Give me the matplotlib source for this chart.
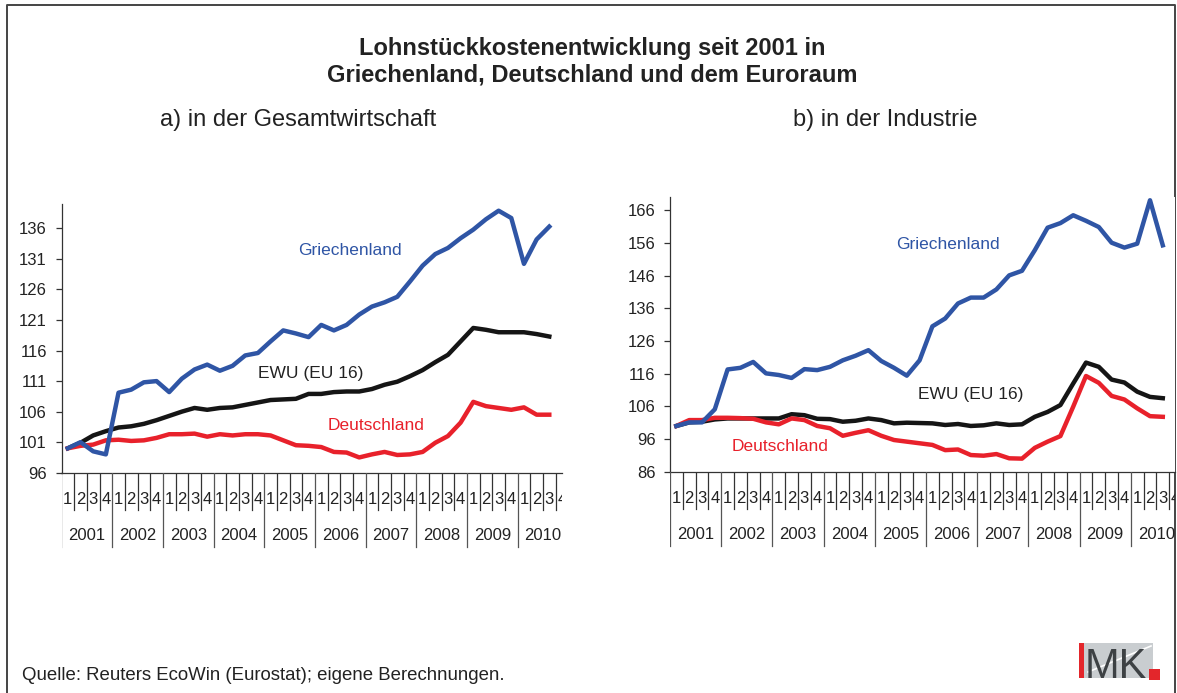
import numpy as np
import matplotlib
matplotlib.use('Agg')
import matplotlib.pyplot as plt
from matplotlib.patches import Rectangle

plt.rcParams['font.family'] = ['Liberation Sans', 'DejaVu Sans']

W, H = 1177, 693

years = ['2001', '2002', '2003', '2004', '2005', '2006', '2007', '2008', '2009', '2010']
quarters = ['1', '2', '3', '4']

# a) Gesamtwirtschaft, 2001Q1 = 100
gr_total = [100.0, 101.0, 99.5, 99.0, 109.1, 109.6, 110.8, 111.0, 109.2, 111.4,
            112.9, 113.7, 112.7, 113.5, 115.2, 115.6, 117.5, 119.3, 118.8, 118.2,
            120.2, 119.3, 120.2, 121.9, 123.2, 123.9, 124.8, 127.3, 129.9, 131.8,
            132.8, 134.4, 135.8, 137.5, 138.9, 137.7, 130.2, 134.2, 136.3]
ewu_total = [100.0, 100.9, 102.1, 102.8, 103.4, 103.6, 104.0, 104.6, 105.3, 106.0,
             106.6, 106.3, 106.6, 106.7, 107.1, 107.5, 107.9, 108.0, 108.1, 108.9,
             108.9, 109.2, 109.3, 109.3, 109.7, 110.4, 110.9, 111.8, 112.8, 114.1,
             115.3, 117.5, 119.7, 119.4, 119.0, 119.0, 119.0, 118.7, 118.3]
de_total = [100.0, 100.4, 100.6, 101.3, 101.4, 101.2, 101.3, 101.7, 102.3, 102.3,
            102.4, 101.9, 102.3, 102.1, 102.3, 102.3, 102.1, 101.3, 100.5, 100.4,
            100.2, 99.4, 99.3, 98.5, 99.0, 99.4, 98.9, 99.0, 99.4, 100.9,
            102.0, 104.2, 107.6, 106.9, 106.6, 106.3, 106.7, 105.5, 105.5]

# b) Industrie
gr_ind = [100.0, 101.1, 101.1, 105.1, 117.3, 117.8, 119.6, 116.1, 115.6, 114.7,
          117.4, 117.1, 118.1, 120.1, 121.5, 123.2, 119.9, 117.8, 115.4, 120.1,
          130.5, 132.9, 137.5, 139.3, 139.3, 141.8, 146.1, 147.5, 153.8, 160.7,
          162.1, 164.5, 162.8, 160.9, 156.1, 154.6, 155.8, 169.1, 155.3]
ewu_ind = [100.0, 101.1, 101.3, 102.0, 102.3, 102.3, 102.3, 102.3, 102.3, 103.6,
           103.3, 102.2, 102.1, 101.3, 101.6, 102.3, 101.8, 100.8, 101.0, 100.9,
           100.8, 100.3, 100.6, 100.0, 100.2, 100.8, 100.3, 100.5, 102.8, 104.3,
           106.4, 113.0, 119.4, 118.1, 114.2, 113.3, 110.5, 108.9, 108.5]
de_ind = [100.0, 101.8, 101.8, 102.5, 102.5, 102.4, 102.2, 101.1, 100.5, 102.3,
          101.8, 100.0, 99.3, 97.0, 97.9, 98.7, 97.0, 95.7, 95.2, 94.7,
          94.2, 92.6, 92.8, 91.1, 90.9, 91.4, 90.1, 90.0, 93.3, 95.2,
          96.9, 105.9, 115.3, 113.2, 109.2, 108.1, 105.4, 103.0, 102.8]

BLUE = '#2f55a5'
RED = '#e8212b'
BLACK = '#151515'
TXT = '#222222'

fig = plt.figure(figsize=(W / 100, H / 100), dpi=100)

# background layer in pixel coordinates (frame, titles, source, logo)
bg = fig.add_axes([0, 0, 1, 1])
bg.set_xlim(0, W)
bg.set_ylim(H, 0)
bg.axis('off')
bg.plot([6.5, 6.5, 1175, 1175], [H, 5, 5, H], color='#444444', lw=1.4)

bg.text(592, 54.5, 'Lohnstückkostenentwicklung seit 2001 in', ha='center',
        va='baseline', fontsize=17, fontweight='bold', color=TXT)
bg.text(592, 81.5, 'Griechenland, Deutschland und dem Euroraum', ha='center',
        va='baseline', fontsize=17, fontweight='bold', color=TXT)
bg.text(298, 126, 'a) in der Gesamtwirtschaft', ha='center', va='baseline',
        fontsize=17, color=TXT)
bg.text(885, 126, 'b) in der Industrie', ha='center', va='baseline',
        fontsize=17, color=TXT)
bg.text(22, 680, 'Quelle: Reuters EcoWin (Eurostat); eigene Berechnungen.',
        ha='left', va='baseline', fontsize=13.4, color=TXT)

# IMK logo
bg.add_patch(Rectangle((1079, 643), 74, 35, color='#c9cdd0', lw=0))
bg.plot([1088, 1151], [672, 646], color='white', lw=1.2)
bg.add_patch(Rectangle((1079, 643), 4.5, 35, color='#e3262b', lw=0))
bg.text(1085, 678, 'MK', ha='left', va='baseline', fontsize=30, color='#3d4144')
bg.add_patch(Rectangle((1149, 669), 11, 11, color='#e3262b', lw=0))


def px_axes(left, top, right, bottom):
    return fig.add_axes([left / W, 1 - bottom / H, (right - left) / W, (bottom - top) / H])


def panel(box, step, ylim, yticks, gr, ewu, de, labels):
    ax = px_axes(*box)
    xmax = -0.5 + (box[2] - box[0]) / step
    x = np.arange(len(gr))
    ax.plot(x, ewu, color=BLACK, lw=3.2, clip_on=False)
    ax.plot(x, de, color=RED, lw=3.2, clip_on=False)
    ax.plot(x, gr, color=BLUE, lw=3.2, clip_on=False)
    ax.set_xlim(-0.5, xmax)
    ax.set_ylim(*ylim)
    ax.set_yticks(yticks)
    ax.set_xticks([])
    for s in ['top', 'right']:
        ax.spines[s].set_visible(False)
    for s in ['left', 'bottom']:
        ax.spines[s].set_color('#333333')
        ax.spines[s].set_linewidth(0.9)
    ax.tick_params(axis='y', length=4, width=0.9, pad=6.5, labelsize=12,
                   colors='#333333', labelcolor=TXT)
    for (txt, lx, ly, col) in labels:
        ax.text(lx, ly, txt, ha='center', va='center', fontsize=12.5, color=col)

    # category axis: quarters and years with separators
    cat = px_axes(box[0], box[3], box[2], box[3] + 77)
    cat.set_xlim(-0.5, xmax)
    cat.set_ylim(77, 0)
    cat.axis('off')
    n = len(years) * 4
    for k in range(n + 1):
        b = k - 0.5
        if k % 4 == 0:
            cat.plot([b, b], [0, 74], color='#555555', lw=0.9)
        else:
            cat.plot([b, b], [0, 37], color='#333333', lw=0.9)
    for k in range(n):
        cat.text(k, 27, quarters[k % 4], ha='center', va='center',
                 fontsize=12, color=TXT, clip_on=True)
    for j, yr in enumerate(years):
        cat.text(4 * j + 1.5, 63, yr, ha='center', va='center',
                 fontsize=12, color=TXT, clip_on=True)
    return ax


panel((61.5, 204, 562, 472.7), 12.67, (96, 140), np.arange(96, 137, 5),
      gr_total, ewu_total, de_total,
      [('Griechenland', 22.3, 132.4, BLUE),
       ('EWU (EU 16)', 19.2, 112.3, TXT),
       ('Deutschland', 24.3, 103.8, RED)])

panel((670, 197.3, 1175, 471.7), 12.8, (86, 170), np.arange(86, 167, 10),
      gr_ind, ewu_ind, de_ind,
      [('Griechenland', 21.2, 155.7, BLUE),
       ('EWU (EU 16)', 23.0, 109.5, TXT),
       ('Deutschland', 8.1, 93.6, RED)])

fig.savefig('out.png', dpi=100)
